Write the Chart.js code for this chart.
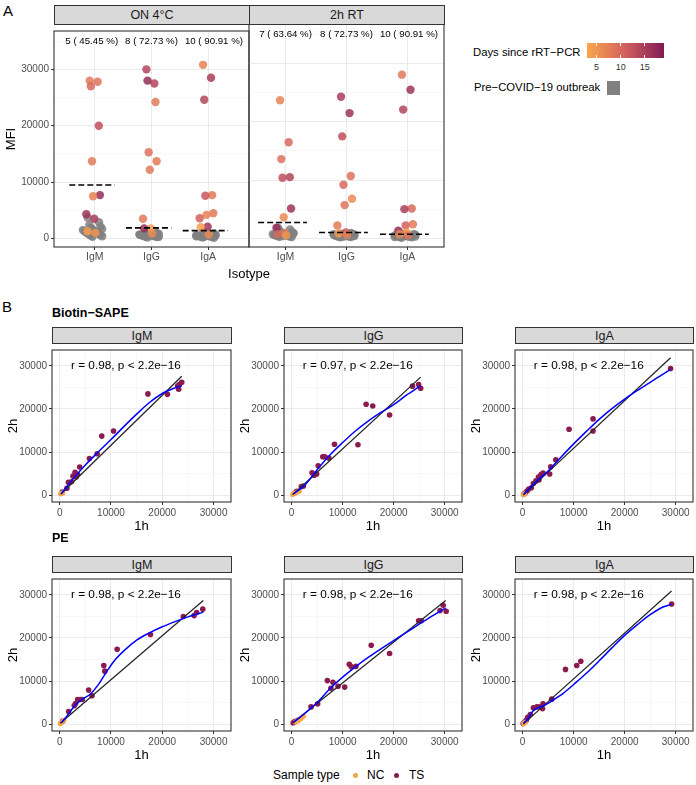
<!DOCTYPE html>
<html>
<head>
<meta charset="utf-8">
<script src="https://cdn.jsdelivr.net/npm/chart.js@4.4.1/dist/chart.umd.min.js"></script>
<style>
body { margin: 0; background: #fff; font-family: "Liberation Sans", Arial, sans-serif; }
#fig { position: relative; width: 696px; height: 785px; overflow: hidden; }
canvas { position: absolute; }
.t { position: absolute; white-space: nowrap; color: #000; line-height: 1; }
.strip { position: absolute; background: #D9D9D9; border: 1px solid #333; box-sizing: border-box;
  display: flex; align-items: center; justify-content: center; color: #1A1A1A; font-size: 12.5px; }
</style>
</head>
<body>
<div id="fig"></div>
<script>
// ---- panel A: MFI per isotype, TS samples (value + days since rRT-PCR) ----
const isotypes = ['IgM', 'IgG', 'IgA'];
const mfiTicks = [0, 5000, 10000, 15000, 20000, 25000, 30000, 35000];
const onPositive = ['5 ( 45.45 %)', '8 ( 72.73 %)', '10 ( 90.91 %)'];
const rtPositive = ['7 ( 63.64 %)', '8 ( 72.73 %)', '10 ( 90.91 %)'];
const onMedian = [9500, 1900, 1400];
const rtMedian = [2700, 1000, 700];

const onIgM = [28000, 27800, 27000, 20000, 13700, 7700, 7500, 4300, 3500, 1300, 1000];
const onIgMDays = [8, 9, 10, 13, 8, 17, 7, 16, 15, 4, 5];
const onIgG = [30000, 27500, 28000, 24200, 15300, 13700, 12200, 3500, 1800, 1800, 900];
const onIgGDays = [14, 14, 17, 8, 9, 8, 8, 8, 4, 17, 6];
const onIgA = [30800, 28500, 24600, 7700, 7600, 4500, 4200, 3600, 2100, 2000, 700];
const onIgADays = [7, 15, 14, 8, 12, 8, 7, 11, 16, 4, 6];

const rtIgM = [23700, 16500, 13600, 10500, 10400, 5100, 3600, 1800, 900, 700, 500];
const rtIgMDays = [7, 10, 9, 14, 13, 16, 6, 17, 8, 10, 5];
const rtIgG = [24300, 21500, 17500, 10700, 9200, 6800, 5700, 2200, 1000, 800, 600];
const rtIgGDays = [15, 16, 13, 9, 10, 6, 9, 8, 12, 5, 7];
const rtIgA = [28100, 25500, 22100, 5100, 5000, 2400, 2200, 1300, 1000, 700, 500];
const rtIgADays = [8, 16, 14, 10, 15, 8, 11, 17, 4, 6, 9];

// pre-COVID-19 outbreak samples (grey)
const onIgMPre = [3700, 2900, 2400, 2100, 1900, 1700, 1600, 1500, 1400, 1300, 1200, 1100, 1000, 900, 800, 700, 600, 500, 400, 300];
const onIgGPre = [1200, 1000, 900, 850, 800, 750, 700, 650, 600, 550, 500, 450, 400, 350, 300, 250, 200, 300, 500, 700];
const onIgAPre = [1100, 900, 800, 700, 650, 600, 550, 500, 450, 400, 350, 300, 250, 200, 150, 300, 500, 700, 400, 600];
const rtIgMPre = [1800, 1500, 1300, 1100, 1000, 900, 800, 700, 600, 550, 500, 450, 400, 350, 300, 250, 200, 600, 800, 400];
const rtIgGPre = [900, 800, 750, 700, 650, 600, 550, 500, 450, 400, 350, 300, 250, 200, 150, 500, 600, 400, 300, 700];
const rtIgAPre = [800, 700, 650, 600, 550, 500, 450, 400, 350, 300, 250, 200, 150, 100, 500, 400, 300, 600, 200, 350];

// ---- panel B: 1h vs 2h MFI ----
const scatterTicks = [0, 5000, 10000, 15000, 20000, 25000, 30000];
const corText = ['r = 0.98, p < 2.2e\u221216', 'r = 0.97, p < 2.2e\u221216', 'r = 0.98, p < 2.2e\u221216',
                 'r = 0.98, p < 2.2e\u221216', 'r = 0.98, p < 2.2e\u221216', 'r = 0.98, p < 2.2e\u221216'];

const bioIgM1h = [500, 1400, 1700, 2300, 2600, 3000, 3200, 3500, 3900, 5800, 7300, 8200, 10500, 17200, 21000, 23000, 23200, 23300, 23800];
const bioIgM2h = [700, 1600, 3000, 3100, 4400, 5300, 4200, 4800, 6500, 8500, 9600, 13700, 14900, 23500, 23400, 25300, 24600, 25700, 26200];
const bioIgMNc1h = [200, 300, 600];
const bioIgMNc2h = [300, 400, 500];
const bioIgMFit1h = [200, 23800];
const bioIgMFit2h = [200, 27600];
const bioIgMSmooth1h = [300, 2500, 5000, 7500, 10000, 12500, 15000, 17500, 20000, 22500, 23800];
const bioIgMSmooth2h = [300, 3600, 7000, 10000, 12900, 15900, 18800, 21500, 23600, 24900, 25400];

const bioIgG1h = [600, 1000, 1900, 2300, 4000, 4400, 4900, 5200, 6100, 6500, 7300, 8400, 13000, 14600, 15900, 19200, 23700, 24900, 25300];
const bioIgG2h = [500, 900, 2000, 2100, 5200, 4600, 4900, 6800, 8900, 8900, 8600, 11800, 11700, 21100, 20700, 18600, 25300, 25700, 24800];
const bioIgGNc1h = [200, 500, 1100, 1500];
const bioIgGNc2h = [150, 400, 700, 900];
const bioIgGFit1h = [200, 25300];
const bioIgGFit2h = [100, 27400];
const bioIgGSmooth1h = [300, 2500, 5000, 7500, 10000, 12500, 15000, 17500, 20000, 22500, 25300];
const bioIgGSmooth2h = [300, 2200, 5900, 9300, 12200, 14900, 17200, 19200, 21000, 23200, 25400];

const bioIgA1h = [200, 500, 850, 1200, 1700, 2100, 2600, 3100, 3200, 3600, 4000, 5300, 5500, 6500, 9100, 13800, 13800, 29000];
const bioIgA2h = [200, 500, 950, 1400, 1700, 2700, 3300, 4200, 3500, 4800, 5100, 4900, 6600, 8200, 15300, 17700, 14900, 29400];
const bioIgANc1h = [150, 400];
const bioIgANc2h = [100, 300];
const bioIgAFit1h = [150, 29000];
const bioIgAFit2h = [0, 31900];
const bioIgASmooth1h = [200, 2500, 5000, 7500, 10000, 12500, 15000, 17500, 20000, 22500, 25000, 27000, 29000];
const bioIgASmooth2h = [200, 3000, 5600, 8800, 11900, 14800, 17600, 20100, 22300, 24300, 26200, 27700, 29200];

const peIgM1h = [600, 1750, 2850, 3100, 3500, 4000, 4400, 5650, 6300, 8600, 8800, 11200, 17700, 24100, 26200, 26700, 27900];
const peIgM2h = [700, 2900, 4300, 4800, 5700, 5700, 5700, 7900, 6600, 13600, 12300, 17400, 20800, 25000, 25200, 25900, 26700];
const peIgMNc1h = [100, 300, 800];
const peIgMNc2h = [150, 300, 900];
const peIgMFit1h = [100, 28000];
const peIgMFit2h = [200, 28700];
const peIgMSmooth1h = [300, 1500, 3000, 4500, 6000, 7500, 9000, 10500, 12500, 15000, 17500, 20000, 22500, 25000, 28000];
const peIgMSmooth2h = [300, 2000, 4400, 5800, 7000, 9100, 11900, 14500, 17000, 19500, 21200, 22600, 23800, 24900, 26000];

const peIgG1h = [300, 600, 1200, 3800, 5100, 7000, 7700, 8100, 9100, 10400, 11300, 11700, 12600, 15600, 19200, 24900, 25400, 29100, 29700, 30300];
const peIgG2h = [300, 600, 900, 4000, 4700, 10100, 8300, 9700, 8800, 8600, 13900, 13300, 13400, 18300, 16400, 24000, 24000, 26400, 27600, 26200];
const peIgGNc1h = [800, 1200, 1800, 2300];
const peIgGNc2h = [500, 800, 1250, 1800];
const peIgGFit1h = [300, 30200];
const peIgGFit2h = [400, 28700];
const peIgGSmooth1h = [300, 2500, 5000, 7500, 10000, 12500, 15000, 17500, 20000, 22500, 25000, 27500, 30200];
const peIgGSmooth2h = [400, 2400, 5000, 8200, 10900, 13300, 15500, 17500, 19400, 21300, 23200, 25100, 27000];

const peIgA1h = [100, 400, 700, 1000, 1500, 2100, 2800, 3400, 3900, 4000, 5700, 8400, 10600, 11400, 29200];
const peIgA2h = [150, 500, 900, 1600, 2200, 3800, 4000, 4000, 3600, 4700, 5800, 12700, 13600, 14600, 27900];
const peIgANc1h = [200, 500];
const peIgANc2h = [150, 400];
const peIgAFit1h = [100, 29200];
const peIgAFit2h = [0, 30900];
const peIgASmooth1h = [200, 1000, 2000, 3000, 4000, 6000, 8000, 10000, 12500, 15000, 17500, 20000, 22500, 25000, 27500, 29200];
const peIgASmooth2h = [200, 1200, 3000, 3800, 4200, 5600, 7200, 9200, 11800, 14700, 17700, 20600, 23100, 25400, 27200, 27800];

const FONT = '"Liberation Sans", Arial, sans-serif';
Chart.defaults.font.family = FONT;
Chart.defaults.color = '#4D4D4D';

const fig = document.getElementById('fig');

// days -> colour, orange (few days) to dark magenta (many days)
const dayStops = [[3, [249, 166, 75]], [11, [210, 96, 95]], [19, [128, 26, 84]]];
function dayColor(d, a) {
  let i = 0;
  while (i < dayStops.length - 2 && d > dayStops[i + 1][0]) i++;
  const [d0, c0] = dayStops[i], [d1, c1] = dayStops[i + 1];
  const t = Math.max(0, Math.min(1, (d - d0) / (d1 - d0)));
  const c = c0.map((v, k) => Math.round(v + (c1[k] - v) * t));
  return 'rgba(' + c.join(',') + ',' + (a == null ? 1 : a) + ')';
}

// deterministic horizontal jitter
function jitter(i, w) { return (((i * 7 + 3) % 13) / 12 - 0.5) * 2 * w; }
function zip(xs, ys) { return xs.map((x, i) => ({ x: x, y: ys[i] })); }

function addCanvas(left, top, w, h) {
  const c = document.createElement('canvas');
  c.width = w; c.height = h;
  c.style.left = left + 'px'; c.style.top = top + 'px';
  c.style.width = w + 'px'; c.style.height = h + 'px';
  fig.appendChild(c);
  return c;
}

function label(str, x, y, size, center, extra) {
  const d = document.createElement('div');
  d.className = 't';
  d.textContent = str;
  d.style.left = x + 'px'; d.style.top = y + 'px';
  d.style.fontSize = size + 'px';
  d.style.transform = center ? 'translate(-50%,-50%)' : 'translate(0,-50%)';
  if (extra) Object.assign(d.style, extra);
  fig.appendChild(d);
  return d;
}

function strip(str, left, top, w, h) {
  const d = document.createElement('div');
  d.className = 'strip';
  d.textContent = str;
  d.style.left = left + 'px'; d.style.top = top + 'px';
  d.style.width = w + 'px'; d.style.height = h + 'px';
  fig.appendChild(d);
}

function isMajor(ctx) { return ctx.tick && ctx.tick.value % 10000 === 0; }

function gridOpts(major) {
  return {
    color: ctx => (major(ctx) ? '#EBEBEB' : '#F4F4F4'),
    lineWidth: ctx => (major(ctx) ? 1 : 0.6),
    tickColor: ctx => (major(ctx) ? '#333' : 'rgba(0,0,0,0)'),
    tickLength: 3
  };
}

// panel border + text drawn inside the panel
function frame(extra) {
  return {
    id: 'frame',
    afterDraw(chart) {
      const { ctx, chartArea: a } = chart;
      ctx.save();
      if (extra) extra(chart, ctx);
      ctx.strokeStyle = '#333';
      ctx.lineWidth = 1.1;
      ctx.strokeRect(a.left, a.top, a.right - a.left, a.bottom - a.top);
      ctx.restore();
    }
  };
}

// ---------------- panel A ----------------
function facet(left, width, first, values, days, pre, medians, positives, xmin, xmax) {
  const datasets = [];
  values.forEach((vals, g) => {
    datasets.push({
      data: vals.map((v, i) => ({ x: g + 1 + jitter(i, 0.12) - 0.03, y: v })),
      backgroundColor: ctx => dayColor(days[g][ctx.dataIndex], 0.85),
      pointRadius: 4.2, borderWidth: 0, order: 1
    });
    datasets.push({
      data: pre[g].map((v, i) => ({ x: g + 1 + jitter(i + g, 0.17) - 0.04, y: v })),
      backgroundColor: 'rgba(128,128,128,0.85)',
      pointRadius: 4.2, borderWidth: 0, order: 2
    });
    datasets.push({
      data: [{ x: g + 1 - 0.45, y: medians[g] }, { x: g + 1 + 0.35, y: medians[g] }],
      showLine: true, pointRadius: 0, borderColor: '#000', borderWidth: 1.6,
      borderDash: [6, 3], order: 0
    });
  });

  // first facet carries the y axis (54 px wide) to the left of its panel
  const canvas = first ? addCanvas(0, 23, left + width + 1, 244) : addCanvas(left - 1, 23, width + 2, 244);
  return new Chart(canvas, {
    type: 'scatter',
    data: { datasets: datasets },
    options: {
      responsive: false, animation: false, devicePixelRatio: 1,
      layout: { autoPadding: false, padding: { top: 1, right: 1, left: first ? 0 : 1 } },
      plugins: { legend: { display: false }, tooltip: { enabled: false } },
      scales: {
        x: {
          type: 'linear', min: xmin, max: xmax,
          afterBuildTicks: s => { s.ticks = isotypes.map((n, i) => ({ value: i + 1 })); },
          afterFit: s => { s.height = 20; },
          ticks: { autoSkip: false, maxRotation: 0, padding: 1, font: { size: 10.5 },
                   callback: v => isotypes[v - 1] },
          grid: { color: '#EBEBEB', lineWidth: 1, tickColor: '#333', tickLength: 3 },
          border: { display: false }
        },
        y: {
          type: 'linear', min: -1500, max: 36800,
          afterBuildTicks: s => { s.ticks = mfiTicks.map(v => ({ value: v })); },
          afterFit: s => { s.width = first ? left : 0; },
          ticks: { display: first, padding: 2, font: { size: 10 },
                   callback: v => (v % 10000 === 0 ? String(v) : '') },
          grid: Object.assign(gridOpts(isMajor), first ? {} : { drawTicks: false }),
          border: { display: false },
          title: { display: first, text: 'MFI', color: '#000', font: { size: 13 }, padding: { top: 3.5, bottom: 0 } }
        }
      }
    },
    plugins: [frame((chart, ctx) => {
      ctx.fillStyle = '#000';
      ctx.font = '9.7px ' + FONT;
      ctx.textAlign = 'center';
      ctx.textBaseline = 'middle';
      // centre over each isotype, then push neighbours apart so labels keep a small gap
      const w = positives.map(s => ctx.measureText(s).width);
      const xs = positives.map((s, i) => chart.scales.x.getPixelForValue(i + 1));
      const gap = 7;
      xs[0] = Math.min(xs[0], xs[1] - w[1] / 2 - gap - w[0] / 2);
      xs[2] = Math.max(xs[2], xs[1] + w[1] / 2 + gap + w[2] / 2);
      positives.forEach((s, i) => ctx.fillText(s, xs[i], chart.chartArea.top + 10));
    })]
  });
}

facet(54, 195, true, [onIgM, onIgG, onIgA], [onIgMDays, onIgGDays, onIgADays],
      [onIgMPre, onIgGPre, onIgAPre], onMedian, onPositive, 0.28, 3.72);
facet(249, 195, false, [rtIgM, rtIgG, rtIgA], [rtIgMDays, rtIgGDays, rtIgADays],
      [rtIgMPre, rtIgGPre, rtIgAPre], rtMedian, rtPositive, 0.4, 3.6);

strip('ON 4\u00B0C', 54, 5, 196, 20);
strip('2h RT', 249, 5, 196, 20);
label('A', 3, 10, 15);
label('Isotype', 249, 273, 13, true);

// colour bar legend
label('Days since rRT\u2212PCR', 473, 52.5, 11.3);
const bar = document.createElement('div');
const barStops = [];
for (let d = 3; d <= 19; d += 2) barStops.push(dayColor(d) + ' ' + ((d - 3) / 16 * 100) + '%');
Object.assign(bar.style, { position: 'absolute', left: '587px', top: '43px', width: '77px', height: '15px',
  background: 'linear-gradient(to right,' + barStops.join(',') + ')' });
fig.appendChild(bar);
[5, 10, 15].forEach(d => {
  const x = 587 + (d - 3) / 16 * 77;
  [43, 55].forEach(y => {
    const tk = document.createElement('div');
    Object.assign(tk.style, { position: 'absolute', left: (x - 0.5) + 'px', top: y + 'px', width: '1px', height: '3px', background: '#fff' });
    fig.appendChild(tk);
  });
  label(String(d), x, 67, 9, true, { color: '#333' });
});
label('Pre\u2212COVID\u221219 outbreak', 474, 88, 11.3);
const sq = document.createElement('div');
Object.assign(sq.style, { position: 'absolute', left: '607px', top: '81px', width: '13px', height: '14px', background: '#808080' });
fig.appendChild(sq);

// ---------------- panel B ----------------
function scatterPanel(L, R, T, B, isotype, ts1, ts2, nc1, nc2, fit1, fit2, sm1, sm2, cor) {
  strip(isotype, L, T - 16, R - L + 1, 17);
  const canvas = addCanvas(L - 50, T - 1, R - L + 51, B - T + 33);
  const axis = (title, horizontal) => ({
    type: 'linear', min: horizontal ? -1500 : -1600, max: horizontal ? 33400 : 33700,
    afterBuildTicks: s => { s.ticks = scatterTicks.map(v => ({ value: v })); },
    afterFit: s => { if (horizontal) s.height = 32; else s.width = 50; },
    ticks: { autoSkip: false, maxRotation: 0, padding: 2, font: { size: 10 },
             callback: v => (v % 10000 === 0 ? String(v) : '') },
    grid: gridOpts(isMajor),
    border: { display: false },
    title: { display: true, text: title, color: '#000', font: { size: 13 },
             padding: horizontal ? { top: 0, bottom: 0 } : { top: 4, bottom: 0 } }
  });
  return new Chart(canvas, {
    type: 'scatter',
    data: {
      datasets: [
        { data: zip(sm1, sm2), showLine: true, pointRadius: 0, borderColor: '#0000FF', borderWidth: 1.5,
          cubicInterpolationMode: 'monotone', order: 0 },
        { data: zip(fit1, fit2), showLine: true, pointRadius: 0, borderColor: '#262626', borderWidth: 1.3, order: 1 },
        { data: zip(nc1, nc2), backgroundColor: '#F9A54A', pointRadius: 2.6, borderWidth: 0, order: 2 },
        { data: zip(ts1, ts2), backgroundColor: '#8B1A4F', pointRadius: 2.8, borderWidth: 0, order: 3 }
      ]
    },
    options: {
      responsive: false, animation: false, devicePixelRatio: 1,
      layout: { autoPadding: false, padding: { top: 1, right: 1 } },
      plugins: { legend: { display: false }, tooltip: { enabled: false } },
      scales: { x: axis('1h', true), y: axis('2h', false) }
    },
    plugins: [frame((chart, ctx) => {
      ctx.fillStyle = '#000';
      ctx.font = '11.8px ' + FONT;
      ctx.textAlign = 'left';
      ctx.textBaseline = 'middle';
      ctx.fillText(cor, chart.scales.x.getPixelForValue(2200), chart.scales.y.getPixelForValue(30000));
    })]
  });
}

const colL = [52, 284, 515];
const colR = [231, 462, 693];
const rowT = [343, 572];
const rowB = [502, 731];

scatterPanel(colL[0], colR[0], rowT[0], rowB[0], 'IgM', bioIgM1h, bioIgM2h, bioIgMNc1h, bioIgMNc2h, bioIgMFit1h, bioIgMFit2h, bioIgMSmooth1h, bioIgMSmooth2h, corText[0]);
scatterPanel(colL[1], colR[1], rowT[0], rowB[0], 'IgG', bioIgG1h, bioIgG2h, bioIgGNc1h, bioIgGNc2h, bioIgGFit1h, bioIgGFit2h, bioIgGSmooth1h, bioIgGSmooth2h, corText[1]);
scatterPanel(colL[2], colR[2], rowT[0], rowB[0], 'IgA', bioIgA1h, bioIgA2h, bioIgANc1h, bioIgANc2h, bioIgAFit1h, bioIgAFit2h, bioIgASmooth1h, bioIgASmooth2h, corText[2]);
scatterPanel(colL[0], colR[0], rowT[1], rowB[1], 'IgM', peIgM1h, peIgM2h, peIgMNc1h, peIgMNc2h, peIgMFit1h, peIgMFit2h, peIgMSmooth1h, peIgMSmooth2h, corText[3]);
scatterPanel(colL[1], colR[1], rowT[1], rowB[1], 'IgG', peIgG1h, peIgG2h, peIgGNc1h, peIgGNc2h, peIgGFit1h, peIgGFit2h, peIgGSmooth1h, peIgGSmooth2h, corText[4]);
scatterPanel(colL[2], colR[2], rowT[1], rowB[1], 'IgA', peIgA1h, peIgA2h, peIgANc1h, peIgANc2h, peIgAFit1h, peIgAFit2h, peIgASmooth1h, peIgASmooth2h, corText[5]);

label('B', 2, 306, 15);
label('Biotin\u2212SAPE', 52, 312.5, 12.5, false, { fontWeight: 'bold' });
label('PE', 52, 538, 12.5, false, { fontWeight: 'bold' });

// sample type legend
label('Sample type', 273, 775, 12);
[[355, '#F9A54A', 'NC', 367], [396, '#8B1A4F', 'TS', 409]].forEach(([x, col, name, tx]) => {
  const dot = document.createElement('div');
  Object.assign(dot.style, { position: 'absolute', left: (x - 2.5) + 'px', top: '772.5px', width: '5px', height: '5px',
    borderRadius: '50%', background: col });
  fig.appendChild(dot);
  label(name, tx, 775, 12);
});
</script>
</body>
</html>
